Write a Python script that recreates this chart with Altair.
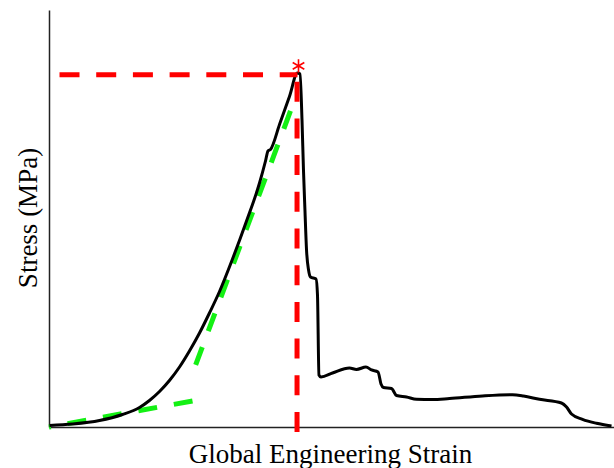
import altair as alt
import pandas as pd

# Black stress-strain curve (strain in arbitrary units 0-0.5, stress in % of axis height)
strain = [0.0004, 0.0208, 0.0447, 0.0650, 0.0801, 0.0889, 0.0978, 0.1066, 0.1155, 0.1243,
          0.1332, 0.1420, 0.1509, 0.1624, 0.1748, 0.1863, 0.1916, 0.1938, 0.1960, 0.2040,
          0.2128, 0.2199, 0.2221, 0.2239, 0.2252, 0.2265, 0.2279, 0.2297, 0.2314, 0.2363,
          0.2376, 0.2389, 0.2407, 0.2509, 0.2659, 0.2721, 0.2805, 0.2854, 0.2912, 0.2938,
          0.2960, 0.3031, 0.3075, 0.3164, 0.3252, 0.3394, 0.3544, 0.3836, 0.4102, 0.4199,
          0.4341, 0.4535, 0.4580, 0.4624, 0.4721, 0.4845, 0.4978]
stress = [0.36, 0.72, 1.56, 3.00, 4.68, 6.35, 8.51, 11.15, 14.39, 18.23,
          22.54, 27.34, 32.49, 40.29, 49.40, 58.51, 63.79, 66.19, 66.55, 72.54,
          79.26, 84.89, 84.65, 73.62, 61.63, 52.04, 42.45, 37.65, 35.97, 35.49,
          31.65, 12.47, 11.99, 12.95, 14.15, 13.79, 14.39, 13.67, 13.19, 10.31,
          9.47, 9.23, 7.55, 7.19, 6.64, 6.59, 6.83, 7.43, 7.72, 7.43,
          6.64, 5.76, 4.80, 3.12, 1.85, 0.89, 0.24]

# Red dashed guide lines (start -> end)
red_s1 = [0.0093, 0.2195]
red_t1 = [84.50, -1.20]
red_s2 = [0.2199, 0.2195]
red_t2 = [84.50, 84.50]

# Green dashed tangent lines (start -> end)
green_s1 = [0.1270, 0.2137]
green_t1 = [6.24, 75.78]
green_s2 = [0.0000, 0.1261]
green_t2 = [0.00, 12.23]

# Ultimate strength marker
peak_s = [0.2208]
peak_t = [86.6]

curve = pd.DataFrame({"strain": strain, "stress": stress, "i": list(range(len(strain)))})
red = pd.DataFrame({"strain": red_s1, "stress": red_t1, "strain2": red_s2, "stress2": red_t2})
green = pd.DataFrame({"strain": green_s1, "stress": green_t1, "strain2": green_s2, "stress2": green_t2})
peak = pd.DataFrame({"strain": peak_s, "stress": peak_t})

FONT = "Liberation Serif"

xaxis = alt.Axis(title="Global Engineering Strain", ticks=False, labels=False, grid=False,
                 domainColor="#222222", domainWidth=1.5,
                 titleFont=FONT, titleFontSize=27, titleFontWeight="normal", titleColor="black",
                 titleX=281, titleY=35, titleBaseline="alphabetic", titleAlign="center")
yaxis = alt.Axis(title="Stress (MPa)", ticks=False, labels=False, grid=False,
                 domainColor="#222222", domainWidth=1.5,
                 titleFont=FONT, titleFontSize=27, titleFontWeight="normal", titleColor="black",
                 titleAngle=270, titleX=-13, titleY=207.5, titleBaseline="alphabetic",
                 titleAlign="center")

X = alt.X("strain:Q", scale=alt.Scale(domain=[0, 0.5], nice=False, zero=False), axis=xaxis)
Y = alt.Y("stress:Q", scale=alt.Scale(domain=[0, 100], nice=False, zero=False), axis=yaxis)

line = alt.Chart(curve).mark_line(color="black", strokeWidth=3, strokeJoin="round",
                                  interpolate="monotone").encode(
    x=X, y=Y, order="i:Q")

red_rules = alt.Chart(red).mark_rule(color="#FF0000", strokeWidth=5, strokeDash=[20, 16.7],
                                     strokeCap="butt").encode(
    x=X, y=Y, x2="strain2:Q", y2="stress2:Q")

green_rules = alt.Chart(green).mark_rule(color="#14F014", strokeWidth=5, strokeDash=[19, 17],
                                         strokeCap="butt").encode(
    x=X, y=Y, x2="strain2:Q", y2="stress2:Q")

star = alt.Chart(peak).mark_point(
    shape="M0,-1L0,1M-0.866,-0.5L0.866,0.5M-0.866,0.5L0.866,-0.5",
    filled=False, color="#FF0000", size=180, strokeWidth=1.6, opacity=1).encode(x=X, y=Y)

chart = alt.layer(green_rules, line, red_rules, star).properties(
    width=565, height=417,
    autosize="none",
    padding={"left": 49, "top": 10, "right": 0, "bottom": 41},
    background="white",
).configure_view(stroke=None)

chart.save("out.html", embed_options={"renderer": "svg", "actions": False})
